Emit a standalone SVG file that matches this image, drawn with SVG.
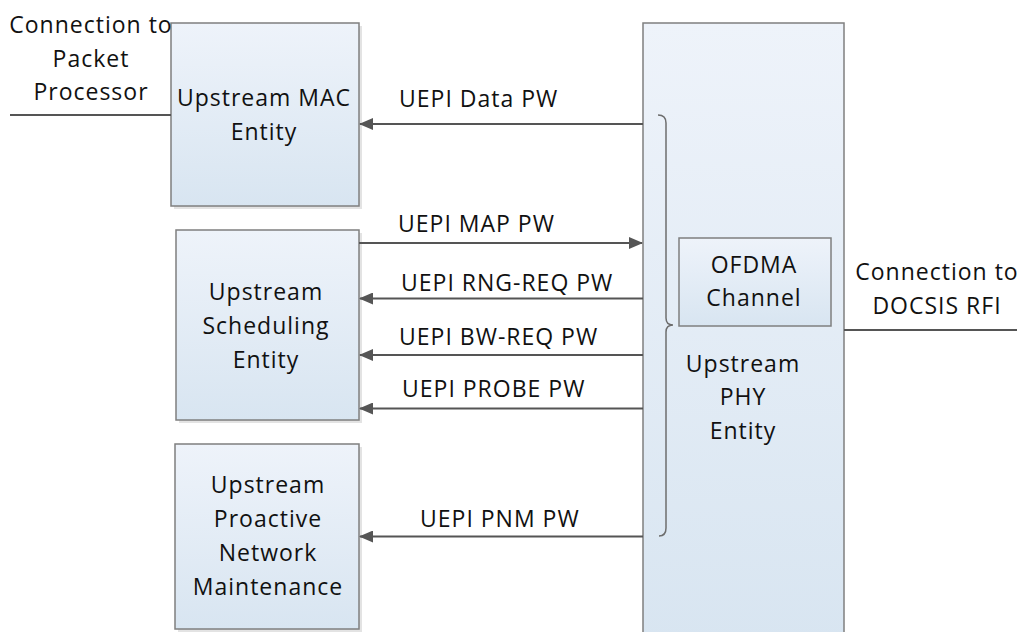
<svg xmlns="http://www.w3.org/2000/svg" width="1019" height="632" viewBox="0 0 1019 632">
<defs>
<linearGradient id="boxfill" x1="0" y1="0" x2="0" y2="1">
<stop offset="0" stop-color="#eef3fa"/>
<stop offset="1" stop-color="#d8e5f1"/>
</linearGradient>
<marker id="ah" markerWidth="14" markerHeight="12" refX="13" refY="6" orient="auto" markerUnits="userSpaceOnUse">
<path d="M0,0 L14,6 L0,12 Z" fill="#555555"/>
</marker>
<style>
.box{fill:url(#boxfill);stroke:#7f7f7f;stroke-width:1.5}
.shadow{fill:#d0d0d0;opacity:0.6}
.t{font-family:"Open Sans","Liberation Sans",sans-serif;font-size:23px;fill:#111;letter-spacing:1px}
.c{text-anchor:middle}
.ln{stroke:#555555;stroke-width:2;fill:none}
.arr{stroke:#555555;stroke-width:2;fill:none;marker-end:url(#ah)}
</style>
</defs>
<rect width="1019" height="632" fill="#ffffff"/>

<g id="mac">
<rect class="shadow" x="174" y="26" width="188" height="183"/>
<rect class="box" x="171" y="23" width="188" height="183"/>
<text class="t c" x="264" y="106">Upstream MAC</text>
<text class="t c" x="264" y="140">Entity</text>
</g>

<g id="scheduling">
<rect class="shadow" x="179" y="233" width="183" height="190"/>
<rect class="box" x="176" y="230" width="183" height="190"/>
<text class="t c" x="266" y="300">Upstream</text>
<text class="t c" x="266" y="334">Scheduling</text>
<text class="t c" x="266" y="368">Entity</text>
</g>

<g id="pnm">
<rect class="shadow" x="178" y="447" width="184" height="185"/>
<rect class="box" x="175" y="444" width="184" height="185"/>
<text class="t c" x="268" y="493">Upstream</text>
<text class="t c" x="268" y="527">Proactive</text>
<text class="t c" x="268" y="561">Network</text>
<text class="t c" x="268" y="595">Maintenance</text>
</g>

<g id="phy">
<rect class="box" x="643" y="23" width="201" height="620"/>
<text class="t c" x="743" y="372">Upstream</text>
<text class="t c" x="743" y="405">PHY</text>
<text class="t c" x="743" y="439">Entity</text>
</g>

<g id="ofdma">
<rect class="box" x="679" y="238" width="152" height="88"/>
<text class="t c" x="754" y="273">OFDMA</text>
<text class="t c" x="754" y="306">Channel</text>
</g>

<g id="brace">
<path d="M658,115 Q666,115 666,123 L666,318 Q666,325 673,325 Q666,325 666,332 L666,528 Q666,536 659,536" fill="none" stroke="#6d6d6d" stroke-width="1.5"/>
</g>

<g id="ext-labels">
<text class="t c" x="91" y="33">Connection to</text>
<text class="t c" x="91" y="67">Packet</text>
<text class="t c" x="91" y="100">Processor</text>
<text class="t c" x="937" y="280">Connection to</text>
<text class="t c" x="937" y="314">DOCSIS RFI</text>
</g>

<g id="connectors">
<line class="ln" x1="10" y1="115" x2="171" y2="115"/>
<line class="ln" x1="844" y1="330" x2="1017" y2="330"/>
<line class="arr" x1="643" y1="124" x2="360" y2="124"/>
<line class="arr" x1="359" y1="243" x2="642" y2="243"/>
<line class="arr" x1="643" y1="298.5" x2="360" y2="298.5"/>
<line class="arr" x1="643" y1="355" x2="360" y2="355"/>
<line class="arr" x1="643" y1="408.5" x2="360" y2="408.5"/>
<line class="arr" x1="643" y1="536.5" x2="360" y2="536.5"/>
<text class="t" x="399" y="107">UEPI Data PW</text>
<text class="t" x="398" y="232">UEPI MAP PW</text>
<text class="t" x="401" y="291">UEPI RNG-REQ PW</text>
<text class="t" x="399" y="345">UEPI BW-REQ PW</text>
<text class="t" x="402" y="397">UEPI PROBE PW</text>
<text class="t" x="420" y="527">UEPI PNM PW</text>
</g>
</svg>
